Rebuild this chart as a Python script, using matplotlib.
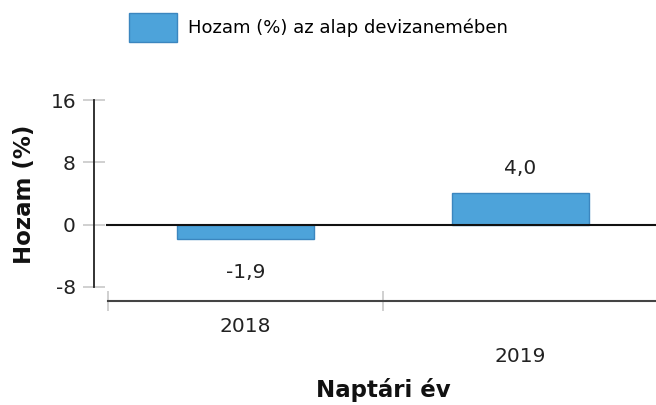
import matplotlib.pyplot as plt

years = ['2018', '2019']
returns = [-1.9, 4.0]
value_labels = ['-1,9', '4,0']
yticks = [-8, 0, 8, 16]
legend_label = 'Hozam (%) az alap devizanemében'

bar_color = '#4da3da'
edge_color = '#3b86bf'
grey = '#c8c8c8'

W, H = 656, 405
fig = plt.figure(figsize=(W / 100, H / 100), dpi=100)

# axes placed in pixel terms: left spine x=94, value 16 at y=100, bottom line at y=300.7
ax = fig.add_axes([94 / W, 1 - 300.7 / H, 562 / W, 200.7 / H])
px_per_unit = 62.3 / 8
ax.set_ylim(16 - 200.7 / px_per_unit, 16)
ax.set_xlim(-0.5 - 14 / 275, 0.5 + 273 / 275)

x = list(range(len(years)))
bars = ax.bar(x, returns, width=0.5, color=bar_color, edgecolor=edge_color,
              linewidth=1, zorder=2, label=legend_label)
ax.axhline(0, xmin=13 / 562, color='#111111', linewidth=1.5, zorder=3)

for xi, v, lab in zip(x, returns, value_labels):
    off = 18 if v >= 0 else -24
    ax.annotate(lab, (xi, v), xytext=(0, off), textcoords='offset points',
                ha='center', va='center', fontsize=14.5, color='#222222')

for s in ['top', 'right']:
    ax.spines[s].set_visible(False)
ax.spines['left'].set_bounds(-8, 16)
ax.spines['left'].set_color('#222222')
ax.spines['left'].set_linewidth(1.3)
ax.spines['bottom'].set_bounds(-0.5, ax.get_xlim()[1])
ax.spines['bottom'].set_color('#444444')
ax.spines['bottom'].set_linewidth(1.5)

ax.set_yticks(yticks)
ax.set_yticklabels([str(t) for t in yticks])
ax.tick_params(axis='y', direction='inout', length=16, width=1.2, color=grey,
               pad=5, labelsize=14.5, labelcolor='#222222')

ax.set_xticks(x)
ax.set_xticklabels(years)
ax.tick_params(axis='x', which='major', length=0, labelsize=14.5, labelcolor='#222222')
ax.xaxis.get_major_ticks()[0].set_pad(12)
ax.xaxis.get_major_ticks()[1].set_pad(33.5)
ax.set_xticks([-0.5, 0.5], minor=True)
ax.tick_params(axis='x', which='minor', direction='inout', length=15, width=1.2, color=grey)

fig.text(383 / W, 1 - 390 / H, 'Naptári év', ha='center', va='center',
         fontsize=16.5, fontweight='bold', color='#111111')
fig.text(25 / W, 1 - 194 / H, 'Hozam (%)', ha='center', va='center', rotation=90,
         fontsize=16.5, fontweight='bold', color='#111111')

fig.legend(handles=[bars], labels=[legend_label], loc='upper left',
           bbox_to_anchor=(129 / W, 1 - 13 / H), frameon=False, fontsize=13,
           handlelength=2.65, handleheight=2.1, handletextpad=0.6,
           borderpad=0, borderaxespad=0)

fig.savefig('out.png', dpi=100)
